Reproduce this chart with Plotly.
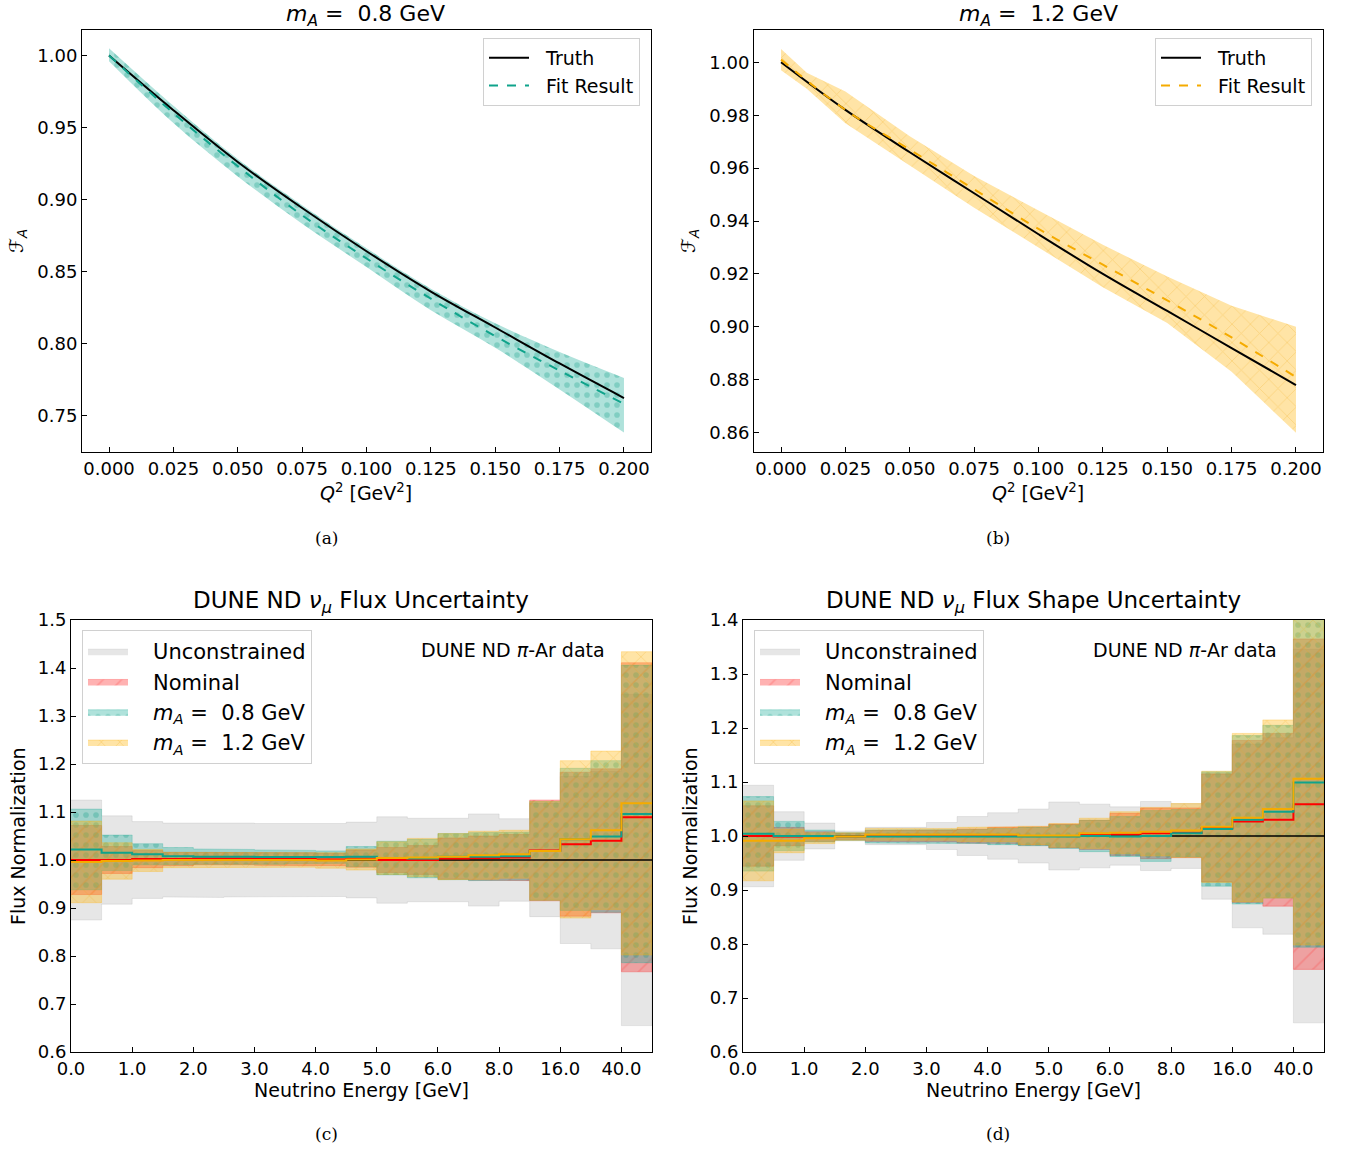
import plotly.graph_objects as go

# ---------------- data: top panels (F_A vs Q^2) ----------------
q2 = [0.0, 0.025, 0.05, 0.075, 0.1, 0.125, 0.15, 0.175, 0.2]
truth_a = [1.000, 0.962, 0.926, 0.894, 0.864, 0.836, 0.811, 0.786, 0.762]
fit_a = [1.000, 0.960, 0.923, 0.889, 0.859, 0.831, 0.805, 0.781, 0.758]
band_a_hi = [1.005, 0.965, 0.928, 0.896, 0.866, 0.838, 0.814, 0.794, 0.776]
band_a_lo = [0.996, 0.953, 0.916, 0.883, 0.853, 0.823, 0.797, 0.768, 0.738]

truth_b = [1.000, 0.982, 0.966, 0.9505, 0.935, 0.920, 0.906, 0.892, 0.878]
fit_b = [1.001, 0.982, 0.967, 0.952, 0.937, 0.9235, 0.910, 0.896, 0.881]
q2_band_b = [0.0, 0.01, 0.025, 0.05, 0.075, 0.1, 0.125, 0.15, 0.175, 0.2]
band_b_hi = [1.005, 0.996, 0.989, 0.972, 0.957, 0.944, 0.931, 0.919, 0.908, 0.900]
band_b_lo = [0.997, 0.990, 0.977, 0.961, 0.945, 0.930, 0.915, 0.9015, 0.883, 0.860]

# ---------------- data: bottom panels (flux normalisation per energy bin) ----------------
energy_tick_labels = ["0.0", "1.0", "2.0", "3.0", "4.0", "5.0", "6.0", "8.0", "16.0", "40.0"]
n_bins = 19
reference_level = 1.0

# (c) flux uncertainty
unc_c = [1.0] * n_bins
unc_err_c = [0.125, 0.092, 0.080, 0.077, 0.078, 0.077, 0.076, 0.077, 0.076, 0.079,
             0.090, 0.087, 0.087, 0.096, 0.086, 0.118, 0.174, 0.185, 0.345]
nom_c = [1.000, 1.000, 1.002, 1.002, 1.003, 1.003, 1.002, 1.002, 1.001, 1.003,
         1.000, 1.000, 1.003, 1.004, 1.005, 1.020, 1.033, 1.040, 1.089]
nom_err_c = [0.072, 0.028, 0.018, 0.014, 0.013, 0.013, 0.013, 0.013, 0.013, 0.018,
             0.026, 0.030, 0.043, 0.046, 0.048, 0.105, 0.150, 0.150, 0.322]
ma08_c = [1.022, 1.015, 1.012, 1.008, 1.007, 1.007, 1.006, 1.006, 1.006, 1.007,
          1.004, 1.003, 1.007, 1.007, 1.008, 1.019, 1.043, 1.049, 1.096]
ma08_err_c = [0.084, 0.037, 0.022, 0.018, 0.016, 0.015, 0.015, 0.014, 0.013, 0.021,
              0.035, 0.040, 0.048, 0.050, 0.050, 0.103, 0.148, 0.158, 0.310]
ma12_c = [0.996, 0.998, 0.999, 1.000, 1.000, 1.000, 1.000, 1.000, 0.999, 1.001,
          1.004, 1.005, 1.007, 1.010, 1.012, 1.019, 1.043, 1.062, 1.118]
ma12_err_c = [0.085, 0.038, 0.023, 0.016, 0.015, 0.015, 0.015, 0.015, 0.016, 0.022,
              0.034, 0.040, 0.048, 0.050, 0.050, 0.103, 0.164, 0.165, 0.316]

# (d) flux shape uncertainty
unc_d = [1.0] * n_bins
unc_err_d = [0.094, 0.045, 0.024, 0.009, 0.016, 0.016, 0.025, 0.036, 0.043, 0.050,
             0.063, 0.059, 0.054, 0.064, 0.060, 0.117, 0.170, 0.182, 0.346]
nom_d = [1.000, 0.999, 0.999, 0.999, 1.000, 1.000, 1.000, 1.000, 1.001, 1.000,
         1.000, 1.002, 1.003, 1.005, 1.006, 1.015, 1.027, 1.030, 1.059]
nom_err_d = [0.056, 0.017, 0.009, 0.006, 0.010, 0.010, 0.011, 0.013, 0.015, 0.017,
             0.022, 0.027, 0.039, 0.047, 0.046, 0.100, 0.150, 0.160, 0.306]
ma08_d = [1.004, 1.000, 1.000, 0.999, 0.999, 0.999, 0.999, 0.999, 0.999, 0.999,
          0.999, 1.000, 0.999, 1.000, 1.005, 1.013, 1.030, 1.045, 1.099]
ma08_err_d = [0.069, 0.027, 0.011, 0.007, 0.012, 0.012, 0.012, 0.013, 0.015, 0.017,
              0.022, 0.029, 0.037, 0.047, 0.044, 0.106, 0.156, 0.160, 0.305]
ma12_d = [0.991, 0.991, 0.996, 0.999, 1.003, 1.003, 1.003, 1.003, 1.003, 1.001,
          1.001, 1.005, 1.006, 1.008, 1.010, 1.017, 1.034, 1.050, 1.106]
ma12_err_d = [0.074, 0.022, 0.010, 0.007, 0.011, 0.011, 0.011, 0.013, 0.014, 0.017,
              0.022, 0.028, 0.039, 0.045, 0.050, 0.103, 0.156, 0.165, 0.308]

# ---------------- styling ----------------
W, H = 1346, 1150
FONT = "DejaVu Sans"
SERIF = "DejaVu Serif"
TEAL = "#0fa38b"
TEAL_FILL = "rgba(26,170,150,0.35)"
TEAL_PAT = "rgba(20,160,135,0.6)"
ORANGE = "#f5ab00"
ORANGE_FILL = "rgba(255,176,0,0.35)"
ORANGE_PAT = "rgba(240,170,20,0.6)"
RED = "#ff0000"
RED_FILL = "rgba(255,0,0,0.3)"
RED_PAT = "rgba(255,70,70,0.6)"
GREY_FILL = "rgba(128,128,128,0.2)"
NBSP = "\u00a0"


def fx(p):
    return p / W


def fy(p):
    return 1 - p / H


fig = go.Figure()


def step_band(lo, hi):
    xs, ys = [], []
    for i, v in enumerate(hi):
        xs += [i, i + 1]
        ys += [v, v]
    for i in reversed(range(len(lo))):
        xs += [i + 1, i]
        ys += [lo[i], lo[i]]
    return xs, ys


def add_bottom_panel(xa, ya, leg, unc, unc_err, nom, nom_err, m08, m08_err, m12, m12_err):
    pad = NBSP * 3
    series = [
        (pad + "Unconstrained", unc, unc_err, GREY_FILL, None, None, None),
        (pad + "Nominal", nom, nom_err, RED_FILL, "/", RED_PAT, RED),
        (pad + f"<i>m</i><sub><i>A</i></sub> ={NBSP} 0.8 GeV", m08, m08_err, TEAL_FILL, ".", TEAL_PAT, TEAL),
        (pad + f"<i>m</i><sub><i>A</i></sub> ={NBSP} 1.2 GeV", m12, m12_err, ORANGE_FILL, "x", ORANGE_PAT, ORANGE),
    ]
    for name, c, e, fill, pat, patc, _ in series:
        lo = [a - b for a, b in zip(c, e)]
        hi = [a + b for a, b in zip(c, e)]
        xs, ys = step_band(lo, hi)
        kw = {}
        if pat:
            kw["fillpattern"] = dict(shape=pat, fgcolor=patc, bgcolor=fill, size=13 if pat != "." else 10,
                                     solidity=0.12 if pat != "." else 0.25)
        fig.add_trace(go.Scatter(x=xs, y=ys, fill="toself", fillcolor=fill, mode="lines",
                                 line=dict(width=0.8, color=fill), name=name, xaxis=xa, yaxis=ya,
                                 legend=leg, showlegend=True, hoverinfo="skip", **kw))
    edges = list(range(n_bins + 1))
    fig.add_trace(go.Scatter(x=[0, n_bins], y=[reference_level, reference_level], mode="lines",
                             line=dict(color="black", width=1.5), xaxis=xa, yaxis=ya, showlegend=False))
    for name, c, e, fill, pat, patc, lc in series[1:]:
        fig.add_trace(go.Scatter(x=edges, y=list(c) + [c[-1]], mode="lines", line_shape="hv",
                                 line=dict(color=lc, width=2), xaxis=xa, yaxis=ya, showlegend=False))


def add_top_panel(xa, ya, leg, q_band, lo, hi, truth, fit, fill, pat, patc, lc, shape):
    pad = NBSP * 2
    fig.add_trace(go.Scatter(x=q_band, y=lo, mode="lines", line=dict(width=0, shape=shape),
                             xaxis=xa, yaxis=ya, showlegend=False, hoverinfo="skip"))
    fig.add_trace(go.Scatter(x=q_band, y=hi, mode="lines", line=dict(width=0, shape=shape), fill="tonexty",
                             fillcolor=fill,
                             fillpattern=dict(shape=pat, fgcolor=patc, bgcolor=fill,
                                              size=10 if pat == "." else 13,
                                              solidity=0.25 if pat == "." else 0.12),
                             xaxis=xa, yaxis=ya, showlegend=False, hoverinfo="skip"))
    fig.add_trace(go.Scatter(x=q2, y=truth, mode="lines", line=dict(color="black", width=2, shape="spline"),
                             name=pad + "Truth", xaxis=xa, yaxis=ya, legend=leg))
    fig.add_trace(go.Scatter(x=q2, y=fit, mode="lines",
                             line=dict(color=lc, width=2, dash="dash", shape="spline"),
                             name=pad + "Fit Result", xaxis=xa, yaxis=ya, legend=leg))


add_top_panel("x", "y", "legend", q2, band_a_lo, band_a_hi, truth_a, fit_a, TEAL_FILL, ".", TEAL_PAT, TEAL, "spline")
add_top_panel("x2", "y2", "legend2", q2_band_b, band_b_lo, band_b_hi, truth_b, fit_b, ORANGE_FILL, "x", ORANGE_PAT, ORANGE, "linear")
add_bottom_panel("x3", "y3", "legend3", unc_c, unc_err_c, nom_c, nom_err_c, ma08_c, ma08_err_c, ma12_c, ma12_err_c)
add_bottom_panel("x4", "y4", "legend4", unc_d, unc_err_d, nom_d, nom_err_d, ma08_d, ma08_err_d, ma12_d, ma12_err_d)

axis_common = dict(showline=True, linecolor="black", linewidth=1, mirror=True, ticks="inside",
                   ticklen=5, tickwidth=1, tickcolor="black", showgrid=False, zeroline=False,
                   automargin=False, tickfont=dict(family=FONT, size=18, color="black"))

top_xdom_a = [fx(82), fx(651)]
top_xdom_b = [fx(754), fx(1323)]
bot_xdom_c = [fx(71), fx(652)]
bot_xdom_d = [fx(743), fx(1324)]
top_ydom = [fy(452), fy(30)]
bot_ydom = [fy(1052), fy(620)]

q2_ticks = [0.0, 0.025, 0.05, 0.075, 0.1, 0.125, 0.15, 0.175, 0.2]
energy_tick_vals = list(range(0, n_bins + 1, 2))

fig.update_layout(
    width=W, height=H, margin=dict(l=0, r=0, t=0, b=0, pad=0, autoexpand=False),
    paper_bgcolor="white", plot_bgcolor="white",
    font=dict(family=FONT, size=17, color="black"),
    xaxis=dict(domain=top_xdom_a, anchor="y", range=[-0.0105, 0.2105], tickvals=q2_ticks,
               tickformat=".3f", **axis_common),
    yaxis=dict(domain=top_ydom, anchor="x", range=[0.7245, 1.0177], dtick=0.05, tickformat=".2f",
               **axis_common),
    xaxis2=dict(domain=top_xdom_b, anchor="y2", range=[-0.0105, 0.2105], tickvals=q2_ticks,
                tickformat=".3f", **axis_common),
    yaxis2=dict(domain=top_ydom, anchor="x2", range=[0.8527, 1.0122], dtick=0.02, tickformat=".2f",
                **axis_common),
    xaxis3=dict(domain=bot_xdom_c, anchor="y3", range=[0, n_bins], tickvals=energy_tick_vals,
                ticktext=energy_tick_labels, **axis_common),
    yaxis3=dict(domain=bot_ydom, anchor="x3", range=[0.6, 1.5], dtick=0.1, tickformat=".1f",
                **axis_common),
    xaxis4=dict(domain=bot_xdom_d, anchor="y4", range=[0, n_bins], tickvals=energy_tick_vals,
                ticktext=energy_tick_labels, **axis_common),
    yaxis4=dict(domain=bot_ydom, anchor="x4", range=[0.6, 1.4], dtick=0.1, tickformat=".1f",
                **axis_common),
)

leg_small = dict(bgcolor="white", bordercolor="#d0d0d0", borderwidth=1, traceorder="normal",
                 font=dict(family=FONT, size=19, color="black"), xanchor="right", yanchor="top",
                 tracegroupgap=0, itemwidth=40)
leg_big = dict(bgcolor="white", bordercolor="#d0d0d0", borderwidth=1, traceorder="normal",
               font=dict(family=FONT, size=21, color="black"), xanchor="left", yanchor="top",
               tracegroupgap=0, itemwidth=40)
fig.update_layout(
    legend=dict(x=fx(640), y=fy(38), **leg_small),
    legend2=dict(x=fx(1312), y=fy(38), **leg_small),
    legend3=dict(x=fx(82), y=fy(630), **leg_big),
    legend4=dict(x=fx(754), y=fy(630), **leg_big),
)

ann = []


def text(x, y, s, size=17, family=FONT, angle=0, xanchor="center"):
    ann.append(dict(x=fx(x), y=fy(y), xref="paper", yref="paper", text=s, showarrow=False,
                    font=dict(family=family, size=size, color="black"), textangle=angle,
                    xanchor=xanchor, yanchor="middle"))


text(366, 15, f"<i>m</i><sub><i>A</i></sub> ={NBSP} 0.8 GeV", size=22)
text(1038, 15, f"<i>m</i><sub><i>A</i></sub> ={NBSP} 1.2 GeV", size=22)
text(366, 492, "<i>Q</i><sup>2</sup> [GeV<sup>2</sup>]", size=19)
text(1038, 492, "<i>Q</i><sup>2</sup> [GeV<sup>2</sup>]", size=19)
text(18, 241, "ℱ<sub><i>A</i></sub>", size=19, angle=-90)
text(690, 241, "ℱ<sub><i>A</i></sub>", size=19, angle=-90)
text(326, 538, "(a)", size=17, family=SERIF)
text(998, 538, "(b)", size=17, family=SERIF)
text(361, 602, "DUNE ND <i>ν</i><sub><i>μ</i></sub> Flux Uncertainty", size=23)
text(1033, 602, "DUNE ND <i>ν</i><sub><i>μ</i></sub> Flux Shape Uncertainty", size=23)
text(361, 1090, "Neutrino Energy [GeV]", size=19)
text(1033, 1090, "Neutrino Energy [GeV]", size=19)
text(18, 836, "Flux Normalization", size=19, angle=-90)
text(690, 836, "Flux Normalization", size=19, angle=-90)
text(607, 650, "DUNE ND <i>π</i>-Ar data", size=19, xanchor="right")
text(1279, 650, "DUNE ND <i>π</i>-Ar data", size=19, xanchor="right")
text(326, 1134, "(c)", size=17, family=SERIF)
text(998, 1134, "(d)", size=17, family=SERIF)
fig.update_layout(annotations=ann)

fig.write_html("out.html", config={"displayModeBar": False},
               post_script="document.body.style.margin='0px';")
